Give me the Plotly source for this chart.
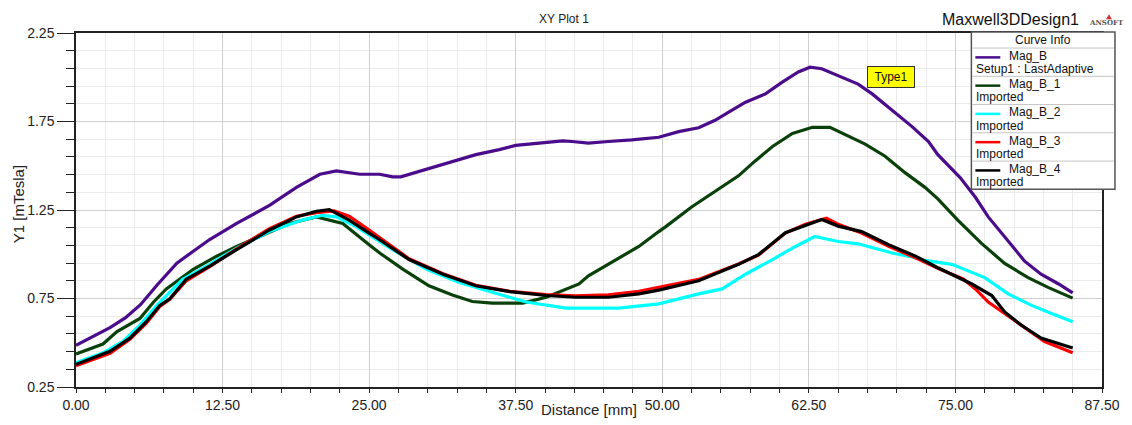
import plotly.graph_objects as go

# ---------------- data ----------------
series_names = ["Mag_B", "Mag_B_1", "Mag_B_2", "Mag_B_3", "Mag_B_4"]
series_sources = ["Setup1 : LastAdaptive", "Imported", "Imported", "Imported", "Imported"]
series_colors = ["#4B0C8C", "#0A400A", "#00FFFF", "#FF0000", "#000000"]

mag_b_x = [0, 2.9, 4.2, 5.5, 6.9, 8.6, 10.0, 11.4, 13.7, 16.5, 18.8, 20.8, 22.2, 24.2, 25.9,
           27.0, 27.7, 29.9, 31.8, 34.1, 36.1, 37.5, 39.5, 41.5, 42.3, 43.7, 45.4, 47.4, 49.7,
           51.4, 53.1, 54.5, 55.7, 57.1, 58.8, 60.2, 61.6, 62.6, 63.6, 65.0, 66.7, 67.9, 69.6,
           71.3, 72.7, 73.5, 75.4, 76.7, 77.8, 79.2, 80.9, 82.3, 83.8, 85.0]
mag_b_y = [0.485, 0.585, 0.640, 0.715, 0.825, 0.950, 1.017, 1.083, 1.174, 1.276, 1.378, 1.452,
           1.471, 1.452, 1.452, 1.437, 1.437, 1.479, 1.517, 1.563, 1.591, 1.615, 1.628, 1.641,
           1.637, 1.628, 1.637, 1.646, 1.661, 1.693, 1.715, 1.757, 1.804, 1.859, 1.906, 1.971,
           2.030, 2.057, 2.048, 2.007, 1.961, 1.906, 1.813, 1.721, 1.637, 1.563, 1.433, 1.322,
           1.211, 1.100, 0.961, 0.887, 0.832, 0.782]

mag_b1_x = [0, 2.3, 3.5, 5.45, 6.6, 7.7, 10.0, 12.0, 13.7, 15.9, 18.2, 20.5, 22.75, 25.0, 25.9,
            27.9, 30.1, 32.1, 33.8, 35.5, 38.1, 40.1, 42.9, 43.7, 46.6, 48.0, 49.7, 50.3, 52.5,
            54.8, 56.5, 57.9, 59.4, 61.1, 62.8, 64.3, 65.6, 67.3, 69.0, 70.7, 72.4, 73.5, 75.2,
            77.2, 79.2, 81.2, 82.9, 85.0]
mag_b1_y = [0.437, 0.493, 0.563, 0.637, 0.729, 0.804, 0.915, 0.989, 1.044, 1.109, 1.174, 1.211,
            1.174, 1.054, 1.007, 0.915, 0.822, 0.770, 0.733, 0.724, 0.724, 0.757, 0.832, 0.878,
            0.989, 1.044, 1.128, 1.156, 1.267, 1.368, 1.443, 1.526, 1.609, 1.683, 1.717, 1.717,
            1.674, 1.622, 1.554, 1.461, 1.378, 1.313, 1.193, 1.063, 0.948, 0.868, 0.813, 0.752]

mag_b2_x = [0, 2.3, 4.0, 5.45, 6.9, 8.0, 9.1, 11.4, 13.7, 16.5, 19.3, 21.0, 22.2, 23.9, 25.0,
            27.0, 29.9, 32.7, 35.5, 38.4, 41.8, 46.3, 49.7, 50.8, 53.1, 55.1, 57.1, 59.4, 61.1,
            63.0, 65.0, 66.7, 69.6, 71.3, 72.4, 74.7, 77.5, 79.5, 81.5, 83.2, 85.0]
mag_b2_y = [0.387, 0.443, 0.507, 0.600, 0.711, 0.785, 0.859, 0.943, 1.035, 1.128, 1.193, 1.220,
            1.211, 1.156, 1.109, 1.026, 0.915, 0.841, 0.785, 0.730, 0.696, 0.696, 0.720, 0.739,
            0.776, 0.804, 0.887, 0.970, 1.035, 1.100, 1.072, 1.059, 1.007, 0.985, 0.965, 0.943,
            0.868, 0.776, 0.711, 0.665, 0.618]

mag_b3_x = [0, 2.9, 4.6, 6.0, 7.15, 8.0, 9.4, 11.4, 13.7, 16.5, 18.8, 20.5, 22.0, 23.3, 25.0,
            28.4, 31.3, 34.1, 37.0, 40.1, 42.6, 45.4, 48.0, 49.7, 53.1, 56.5, 58.2, 60.5, 62.2,
            64.0, 65.0, 67.0, 69.3, 71.6, 73.5, 75.7, 76.7, 77.8, 79.2, 80.9, 82.6, 85.0]
mag_b3_y = [0.370, 0.440, 0.520, 0.610, 0.705, 0.745, 0.850, 0.930, 1.030, 1.145, 1.215, 1.235,
            1.245, 1.215, 1.137, 0.975, 0.890, 0.825, 0.790, 0.772, 0.765, 0.770, 0.790, 0.813,
            0.858, 0.945, 0.995, 1.120, 1.170, 1.203, 1.170, 1.120, 1.045, 0.980, 0.920, 0.859,
            0.804, 0.730, 0.665, 0.582, 0.507, 0.443]

mag_b4_x = [0, 2.9, 4.6, 6.0, 7.15, 8.0, 9.4, 11.4, 13.7, 16.5, 18.8, 20.5, 21.6, 23.3, 25.0,
            25.9, 28.4, 31.3, 34.1, 37.0, 40.1, 42.6, 45.4, 48.0, 49.7, 53.1, 56.5, 58.2, 60.5,
            62.2, 63.6, 65.0, 67.0, 69.3, 71.6, 73.5, 74.4, 76.4, 78.1, 79.2, 80.6, 82.3, 85.0]
mag_b4_y = [0.378, 0.452, 0.526, 0.619, 0.711, 0.748, 0.859, 0.933, 1.026, 1.137, 1.211, 1.243,
            1.252, 1.193, 1.119, 1.082, 0.970, 0.887, 0.822, 0.789, 0.767, 0.757, 0.757, 0.776,
            0.797, 0.850, 0.943, 0.998, 1.122, 1.165, 1.196, 1.159, 1.128, 1.054, 0.989, 0.924,
            0.896, 0.832, 0.767, 0.674, 0.600, 0.526, 0.470]

series_x = [mag_b_x, mag_b1_x, mag_b2_x, mag_b3_x, mag_b4_x]
series_y = [mag_b_y, mag_b1_y, mag_b2_y, mag_b3_y, mag_b4_y]

x_range = [0, 87.5]
y_range = [0.25, 2.25]

# ---------------- layout geometry ----------------
W, H = 1132, 425
L, R, T, B = 76, 27, 33, 32
PW, PH = W - L - R, H - T - B
FONT = "Arial, 'Liberation Sans', sans-serif"


def px(xp):
    return (xp - L) / PW


def py(yp):
    return (H - B - yp) / PH


fig = go.Figure()
for name, xs, ys, col in zip(series_names, series_x, series_y, series_colors):
    fig.add_trace(go.Scatter(x=xs, y=ys, mode="lines", name=name,
                             line=dict(color=col, width=3.2), showlegend=False))

fig.update_layout(
    width=W, height=H,
    margin=dict(l=L, r=R, t=T, b=B, pad=0),
    paper_bgcolor="white", plot_bgcolor="white",
    font=dict(family=FONT, size=14, color="#222222"),
)

fig.update_xaxes(
    range=x_range, tick0=0, dtick=12.5, tickformat=".2f",
    showgrid=True, gridcolor="#cfcfcf", gridwidth=1,
    showline=True, linecolor="#222222", linewidth=1.5, mirror=True,
    ticks="outside", ticklen=4, tickcolor="#222222",
    zeroline=False, tickfont=dict(size=14, color="#222222"),
    minor=dict(dtick=2.5, tick0=0, showgrid=True, gridcolor="#ebebeb",
               ticks="outside", ticklen=4, tickcolor="#222222"),
)
fig.update_yaxes(
    range=y_range, tick0=0.25, dtick=0.5, tickformat=".2f",
    showgrid=True, gridcolor="#cfcfcf", gridwidth=1,
    showline=True, linecolor="#222222", linewidth=1.5, mirror=True,
    ticks="outside", ticklen=17, tickcolor="#222222",
    zeroline=False, tickfont=dict(size=14, color="#222222"),
    minor=dict(dtick=0.1, tick0=0.25, showgrid=True, gridcolor="#ebebeb",
               ticks="outside", ticklen=8, tickcolor="#222222"),
)

ann = []
shapes = []

# titles
ann.append(dict(text="XY Plot 1", x=px(565), y=py(18.5), xref="paper", yref="paper",
                showarrow=False, xanchor="center", yanchor="middle",
                font=dict(size=12, color="#222222")))
ann.append(dict(text="Maxwell3DDesign1", x=px(943), y=py(19.5), xref="paper", yref="paper",
                showarrow=False, xanchor="left", yanchor="middle",
                font=dict(size=16, color="#111111")))
ann.append(dict(text="<b>ANSOFT</b>", x=px(1110), y=py(22), xref="paper", yref="paper",
                showarrow=False, xanchor="center", yanchor="middle",
                font=dict(size=7, color="#555555", family="'DejaVu Serif', serif")))
shapes.append(dict(type="path", xref="paper", yref="paper",
                   path=f"M {px(1109)} {py(19)} L {px(1112)} {py(14)} L {px(1115)} {py(19)} Z",
                   fillcolor="#cc3333", line=dict(width=0)))

# axis titles
ann.append(dict(text="Distance [mm]", x=px(591), y=py(416), xref="paper", yref="paper",
                showarrow=False, xanchor="center", yanchor="middle",
                font=dict(size=15, color="#222222")))
ann.append(dict(text="Y1 [mTesla]", x=px(18), y=py(207), xref="paper", yref="paper",
                showarrow=False, xanchor="center", yanchor="middle", textangle=-90,
                font=dict(size=15, color="#222222")))

# Type1 marker label
ann.append(dict(text="Type1", x=px(893), y=py(77.5), xref="paper", yref="paper",
                showarrow=False, xanchor="center", yanchor="middle",
                bgcolor="#FFFF00", bordercolor="#333333", borderwidth=1, borderpad=3,
                width=40, height=14, font=dict(size=12, color="#111111")))

# Curve Info box (custom legend)
bx0, bx1, by0, by1 = 974, 1118, 32, 192
shapes.append(dict(type="rect", xref="paper", yref="paper",
                   x0=px(bx0), x1=px(bx1), y0=py(by1), y1=py(by0),
                   fillcolor="white", line=dict(color="#555555", width=1.5), layer="above"))
ann.append(dict(text="Curve Info", x=px((bx0 + bx1) / 2), y=py(40.5), xref="paper", yref="paper",
                showarrow=False, xanchor="center", yanchor="middle",
                font=dict(size=12, color="#111111")))
row_h = (by1 - 48.3) / len(series_names)
for i, (name, src, col) in enumerate(zip(series_names, series_sources, series_colors)):
    top = 48.3 + i * row_h
    shapes.append(dict(type="line", xref="paper", yref="paper",
                       x0=px(bx0 + 1), x1=px(bx1 - 1), y0=py(top), y1=py(top),
                       line=dict(color="#c4c4c4", width=1), layer="above"))
    shapes.append(dict(type="line", xref="paper", yref="paper",
                       x0=px(978), x1=px(1003), y0=py(top + 9.5), y1=py(top + 9.5),
                       line=dict(color=col, width=2.5), layer="above"))
    ann.append(dict(text=name, x=px(1010), y=py(top + 8), xref="paper", yref="paper",
                    showarrow=False, xanchor="left", yanchor="middle",
                    font=dict(size=12, color="#111111")))
    ann.append(dict(text=src, x=px(977), y=py(top + 21.5), xref="paper", yref="paper",
                    showarrow=False, xanchor="left", yanchor="middle",
                    font=dict(size=12, color="#111111")))

fig.update_layout(annotations=ann, shapes=shapes)

fig.write_html("out.html", config={"displayModeBar": False},
               post_script="document.body.style.margin='0';document.body.style.overflow='hidden';")
